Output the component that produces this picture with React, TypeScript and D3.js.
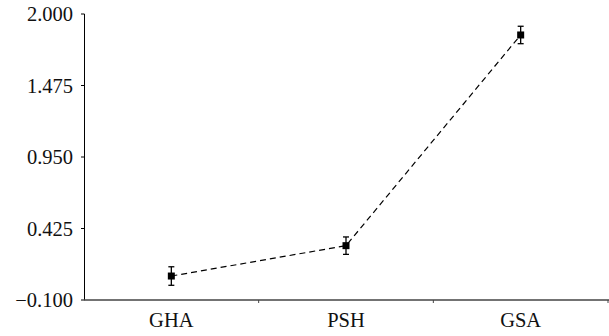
import React from "react";
import * as d3 from "d3";

const categories = ["GHA", "PSH", "GSA"];
const values = [0.076, 0.299, 1.846];
const errors = [0.068, 0.064, 0.064];
const yTicks = [-0.1, 0.425, 0.95, 1.475, 2.0];

const W = 609;
const H = 336;
const left = 84;
const right = 608;
const top = 14;
const bottom = 300;

export default function App() {
  const x = d3.scaleBand<string>().domain(categories).range([left, right]);
  const y = d3.scaleLinear().domain([-0.1, 2.0]).range([bottom, top]);
  const fmt = d3.format(".3f");
  const line = d3
    .line<number>()
    .x((_, i) => x(categories[i])! + x.bandwidth() / 2)
    .y((d) => y(d));
  const font = "'Liberation Serif', 'Times New Roman', serif";
  return (
    <svg
      width={W}
      height={H}
      style={{ position: "absolute", left: 0, top: 0, background: "#fff" }}
    >
      {/* y axis */}
      <line x1={left + 0.5} x2={left + 0.5} y1={top} y2={bottom} stroke="#000" strokeWidth={1} />
      {yTicks.map((t) => (
        <g key={t}>
          <line x1={left - 3} x2={left + 0.5} y1={y(t)} y2={y(t)} stroke="#000" strokeWidth={1} />
          <text
            x={left - 11}
            y={y(t)}
            dy="0.35em"
            textAnchor="end"
            fontFamily={font}
            fontSize={20.5}
            fill="#111"
          >
            {fmt(t).replace("-", "\u2212")}
          </text>
        </g>
      ))}
      {/* x axis */}
      <line x1={left} x2={right + 1} y1={bottom} y2={bottom} stroke="#444" strokeWidth={1.6} />
      {categories.map((c) => (
        <g key={c}>
          <line
            x1={x(c)! + x.bandwidth()}
            x2={x(c)! + x.bandwidth()}
            y1={bottom}
            y2={bottom + 3}
            stroke="#444"
            strokeWidth={1}
          />
          <text
            x={x(c)! + x.bandwidth() / 2}
            y={bottom + 27}
            textAnchor="middle"
            fontFamily={font}
            fontSize={20.5}
            fill="#111"
          >
            {c}
          </text>
        </g>
      ))}
      {/* dashed line */}
      <path d={line(values)!} fill="none" stroke="#000" strokeWidth={1.2} strokeDasharray="6,4" />
      {/* error bars and markers */}
      {values.map((v, i) => {
        const cx = x(categories[i])! + x.bandwidth() / 2;
        const y1 = y(v + errors[i]);
        const y2 = y(v - errors[i]);
        return (
          <g key={i}>
            <line x1={cx} x2={cx} y1={y1} y2={y2} stroke="#000" strokeWidth={1.3} />
            <line x1={cx - 3} x2={cx + 3} y1={y1} y2={y1} stroke="#000" strokeWidth={1.3} />
            <line x1={cx - 3} x2={cx + 3} y1={y2} y2={y2} stroke="#000" strokeWidth={1.3} />
            <rect x={cx - 3.5} y={y(v) - 3.5} width={7} height={7} fill="#000" />
          </g>
        );
      })}
    </svg>
  );
}
